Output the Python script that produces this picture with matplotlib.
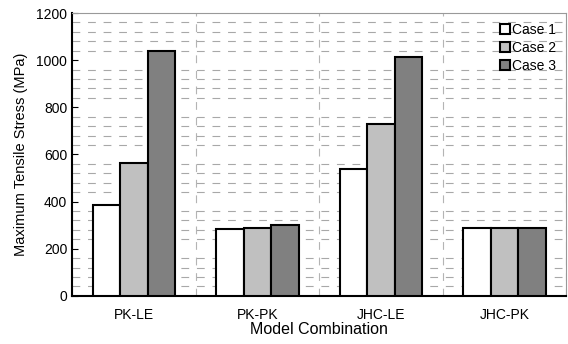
import matplotlib.pyplot as plt
import numpy as np

plt.rcParams['font.family'] = ['Liberation Sans', 'DejaVu Sans']

# Model combinations and stress values
models = ["PK-LE", "PK-PK", "JHC-LE", "JHC-PK"]
case1 = [385, 285, 537, 287]
case2 = [563, 290, 730, 288]
case3 = [1038, 302, 1013, 290]
cases = ["Case 1", "Case 2", "Case 3"]
colors = ["white", "#c0c0c0", "#808080"]

fig, ax = plt.subplots(figsize=(5.68, 3.44), dpi=100)
fig.subplots_adjust(left=0.127, right=0.997, top=0.962, bottom=0.14)

x = np.arange(len(models))
w = 0.223
for i, (vals, lab, c) in enumerate(zip([case1, case2, case3], cases, colors)):
    ax.bar(x + (i - 1) * w, vals, w, color=c, edgecolor="black",
           linewidth=1.5, label=lab, zorder=3)

ax.set_xlim(-0.5, 3.5)
ax.set_ylim(0, 1200)
ax.set_yticks(np.arange(0, 1201, 200))
ax.set_yticks(np.arange(0, 1201, 40), minor=True)
ax.set_xticks(x)
ax.set_xticklabels(models)
ax.set_xticks(np.arange(-0.5, 3.6, 0.5), minor=True)

ax.grid(which="minor", axis="y", color="#a8a8a8", linestyle=(0, (7, 7)), linewidth=0.8, zorder=0)
ax.grid(which="minor", axis="x", color="#b4b4b4", linestyle=(0, (7, 7)), linewidth=0.8, zorder=0)

ax.tick_params(axis="both", which="major", direction="in", length=4, labelsize=10)
ax.tick_params(axis="both", which="minor", length=0)
ax.tick_params(axis="x", which="major", length=0, pad=9)
for side in ["left", "bottom"]:
    ax.spines[side].set_color("black")
    ax.spines[side].set_linewidth(1.5)
for side in ["top", "right"]:
    ax.spines[side].set_color("#999999")
    ax.spines[side].set_linewidth(0.8)

ax.set_xlabel("Model Combination", fontsize=11.5, labelpad=0)
ax.set_ylabel("Maximum Tensile Stress (MPa)", fontsize=10.5, labelpad=6)

leg = ax.legend(loc="upper right", frameon=False, fontsize=10, handlelength=0.7,
                handleheight=0.7, handletextpad=0.2, labelspacing=0.3,
                borderaxespad=0.3)

plt.savefig("out.png")
